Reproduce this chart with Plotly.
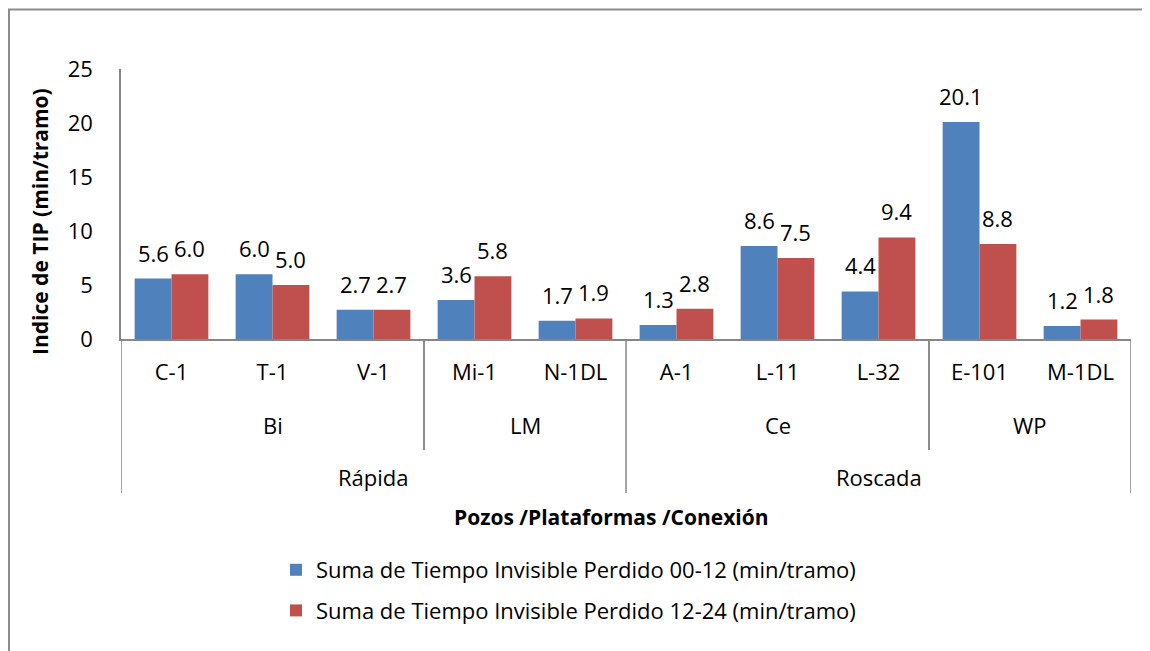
import plotly.graph_objects as go

pozos = ["C-1", "T-1", "V-1", "Mi-1", "N-1DL", "A-1", "L-11", "L-32", "E-101", "M-1DL"]
plataformas = ["Bi", "Bi", "Bi", "LM", "LM", "Ce", "Ce", "Ce", "WP", "WP"]
conexion = ["Rápida"] * 5 + ["Roscada"] * 5
serie_00_12 = [5.6, 6.0, 2.7, 3.6, 1.7, 1.3, 8.6, 4.4, 20.1, 1.2]
serie_12_24 = [6.0, 5.0, 2.7, 5.8, 1.9, 2.8, 7.5, 9.4, 8.8, 1.8]
nombres = ["Suma de Tiempo Invisible Perdido 00-12 (min/tramo)",
           "Suma de Tiempo Invisible Perdido 12-24 (min/tramo)"]
y_ticks = [0, 5, 10, 15, 20, 25]

FONT = "Open Sans"
FS = 22
AXIS_COL = "#868686"
BARGAP = 0.27

# page has an 8px body margin: plot area on screen x 121..1131, y 69..339
W, H = 1142, 643
L, T, PW, PH = 113, 61, 1010, 270

xs = list(range(len(pozos)))
half = (1 - BARGAP) / 4  # offset of each bar centre from the category centre

fig = go.Figure()
annotations = []
for k, (vals, name, col, grp) in enumerate([(serie_00_12, nombres[0], "#4F81BD", "a"),
                                            (serie_12_24, nombres[1], "#C0504D", "b")]):
    fig.add_trace(go.Bar(
        x=xs, y=vals, name=name, marker=dict(color=col, line=dict(width=0)),
        legendgroup=grp,
    ))
    sign = -1 if k == 0 else 1
    for i, v in zip(xs, vals):
        annotations.append(dict(x=i + sign * half, y=v, xref="x", yref="y", text=f"{v:.1f}",
                                showarrow=False, yanchor="middle", xanchor="center", yshift=26,
                                font=dict(family=FONT, size=FS, color="black")))

shapes = []

def groups(labels):
    out = []
    start = 0
    for i in range(1, len(labels) + 1):
        if i == len(labels) or labels[i] != labels[start]:
            out.append((labels[start], start, i - 1))
            start = i
    return out

def py(screen_y):
    return (339 - screen_y) / PH

def px(screen_x):
    return (screen_x - 121) / PW

y_lvl2 = py(425)
y_lvl3 = py(477)
y_mid_end = py(450)
y_top_end = py(493)

top_groups = groups(conexion)
mid_groups = groups(plataformas)
top_bounds = set()
for name, a, b in top_groups:
    top_bounds.add(a - 0.5)
    top_bounds.add(b + 0.5)
    annotations.append(dict(x=(a + b) / 2, y=y_lvl3, xref="x", yref="paper", text=name,
                            showarrow=False, font=dict(family=FONT, size=FS, color="black"),
                            yanchor="middle"))
for name, a, b in mid_groups:
    annotations.append(dict(x=(a + b) / 2, y=y_lvl2, xref="x", yref="paper", text=name,
                            showarrow=False, font=dict(family=FONT, size=FS, color="black"),
                            yanchor="middle"))
    for bd in (a - 0.5, b + 0.5):
        if bd not in top_bounds:
            shapes.append(dict(type="line", xref="x", yref="paper", x0=bd, x1=bd, y0=0, y1=y_mid_end,
                               line=dict(color=AXIS_COL, width=1.5)))
for bd in top_bounds:
    shapes.append(dict(type="line", xref="x", yref="paper", x0=bd, x1=bd, y0=0, y1=y_top_end,
                       line=dict(color=AXIS_COL, width=1.5)))

# outer chart border (right and bottom edges fall outside the picture)
shapes.append(dict(type="rect", xref="paper", yref="paper",
                   x0=px(9), x1=1.2, y0=-1.5, y1=py(9.5),
                   line=dict(color="#8C8C8C", width=2), fillcolor="rgba(0,0,0,0)", layer="below"))

annotations.append(dict(x=px(40), y=py(222), xref="paper", yref="paper",
                        text="<b>Indice de TIP (min/tramo)</b>", textangle=-90, showarrow=False,
                        font=dict(family=FONT, size=FS - 1, color="black"), xanchor="center", yanchor="middle"))
annotations.append(dict(x=px(611), y=py(517), xref="paper", yref="paper",
                        text="<b>Pozos /Plataformas /Conexión</b>", showarrow=False,
                        font=dict(family=FONT, size=FS - 1, color="black"), xanchor="center", yanchor="middle"))

fig.update_layout(
    width=W, height=H,
    margin=dict(l=L, r=W - L - PW, t=T, b=H - T - PH, pad=0),
    paper_bgcolor="white", plot_bgcolor="white",
    barmode="group", bargap=BARGAP, bargroupgap=0,
    font=dict(family=FONT, size=FS, color="black"),
    showlegend=True,
    legend=dict(x=px(276), y=py(549), xanchor="left", yanchor="top",
                orientation="v", tracegroupgap=9, font=dict(family=FONT, size=FS, color="black"),
                bgcolor="rgba(0,0,0,0)"),
    shapes=shapes, annotations=annotations,
)
fig.update_xaxes(range=[-0.5, len(pozos) - 0.5], tickvals=xs, ticktext=pozos,
                 showline=True, linecolor=AXIS_COL, linewidth=1.5, showgrid=False, zeroline=False,
                 ticks="", ticklabelstandoff=13, tickfont=dict(family=FONT, size=FS, color="black"))
fig.update_yaxes(range=[0, 25], tickvals=y_ticks, showline=True, linecolor=AXIS_COL, linewidth=1.5,
                 showgrid=False, zeroline=False, ticks="", ticklabelstandoff=22,
                 tickfont=dict(family=FONT, size=FS, color="black"))

fig.write_html("out.html")
